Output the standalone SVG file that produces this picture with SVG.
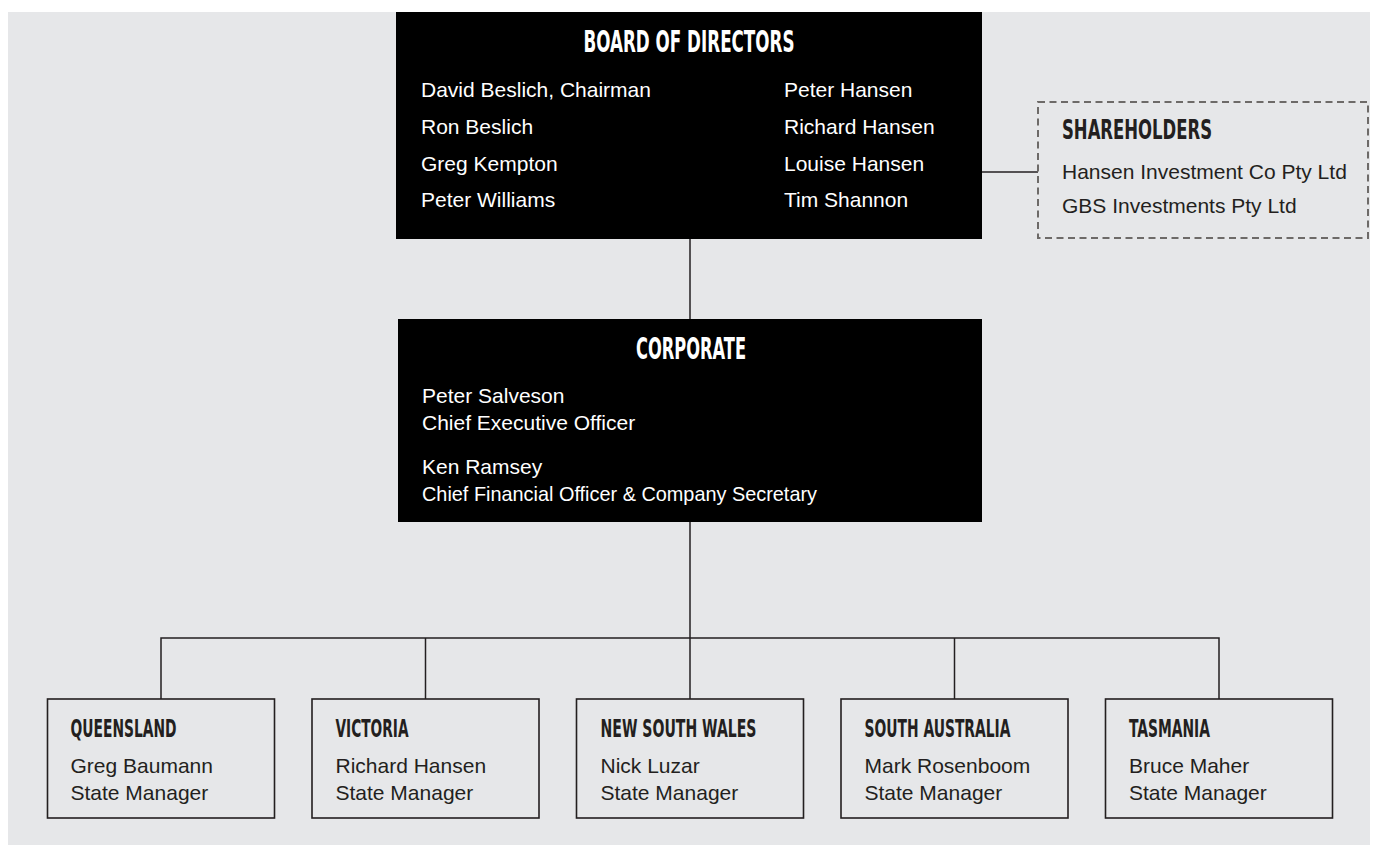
<svg xmlns="http://www.w3.org/2000/svg" width="1375" height="845" viewBox="0 0 1375 845">
<style>
.bg{fill:#e6e7e9}
.dark{fill:#000}
.box{fill:#e6e7e9;stroke:#231f20;stroke-width:1.6}
.dash{fill:#e6e7e9;stroke:#6d6a68;stroke-width:2;stroke-dasharray:7 4.5}
.line{stroke:#231f20;stroke-width:1.5;fill:none}
.h{font-family:"Liberation Sans Narrow","DejaVu Sans Condensed","Liberation Sans",sans-serif;font-weight:bold}
.t{font-family:"Liberation Sans",Arial,sans-serif;font-size:21px}
.w{fill:#fff}
.k{fill:#231f20}
</style>
<rect class="bg" x="8" y="12" width="1362" height="833"/>
<g id="connectors">
<line class="line" x1="690" y1="239" x2="690" y2="319"/>
<line class="line" x1="982" y1="172" x2="1038" y2="172"/>
<line class="line" x1="690" y1="522" x2="690" y2="638"/>
<polyline class="line" points="161,699 161,638 1219,638 1219,699"/>
<line class="line" x1="425.5" y1="638" x2="425.5" y2="699"/>
<line class="line" x1="690" y1="638" x2="690" y2="699"/>
<line class="line" x1="954.5" y1="638" x2="954.5" y2="699"/>
</g>
<g id="board">
<rect class="dark" x="396" y="12" width="586" height="227"/>
<text class="h w" x="689" y="52" font-size="30" text-anchor="middle" textLength="211" lengthAdjust="spacingAndGlyphs">BOARD OF DIRECTORS</text>
<text class="t w" x="421" y="97">David Beslich, Chairman</text>
<text class="t w" x="421" y="134">Ron Beslich</text>
<text class="t w" x="421" y="171">Greg Kempton</text>
<text class="t w" x="421" y="207">Peter Williams</text>
<text class="t w" x="784" y="97">Peter Hansen</text>
<text class="t w" x="784" y="134">Richard Hansen</text>
<text class="t w" x="784" y="171">Louise Hansen</text>
<text class="t w" x="784" y="207">Tim Shannon</text>
</g>
<g id="shareholders">
<rect class="dash" x="1038" y="102" width="330" height="136"/>
<text class="h k" x="1062" y="139" font-size="26" textLength="150" lengthAdjust="spacingAndGlyphs">SHAREHOLDERS</text>
<text class="t k" x="1062" y="179">Hansen Investment Co Pty Ltd</text>
<text class="t k" x="1062" y="213">GBS Investments Pty Ltd</text>
</g>
<g id="corporate">
<rect class="dark" x="398" y="319" width="584" height="203"/>
<text class="h w" x="691" y="359" font-size="30" text-anchor="middle" textLength="110" lengthAdjust="spacingAndGlyphs">CORPORATE</text>
<text class="t w" x="422" y="403">Peter Salveson</text>
<text class="t w" x="422" y="430">Chief Executive Officer</text>
<text class="t w" x="422" y="474">Ken Ramsey</text>
<text class="t w" x="422" y="501" textLength="395" lengthAdjust="spacingAndGlyphs">Chief Financial Officer &amp; Company Secretary</text>
</g>
<g id="queensland">
<rect class="box" x="47.5" y="699" width="227" height="119"/>
<text class="h k" x="70.5" y="737" font-size="24" textLength="106" lengthAdjust="spacingAndGlyphs">QUEENSLAND</text>
<text class="t k" x="70.5" y="773">Greg Baumann</text>
<text class="t k" x="70.5" y="800">State Manager</text>
</g>
<g id="victoria">
<rect class="box" x="312" y="699" width="227" height="119"/>
<text class="h k" x="335.5" y="737" font-size="24" textLength="73" lengthAdjust="spacingAndGlyphs">VICTORIA</text>
<text class="t k" x="335.5" y="773">Richard Hansen</text>
<text class="t k" x="335.5" y="800">State Manager</text>
</g>
<g id="nsw">
<rect class="box" x="576.5" y="699" width="227" height="119"/>
<text class="h k" x="600.5" y="737" font-size="24" textLength="156" lengthAdjust="spacingAndGlyphs">NEW SOUTH WALES</text>
<text class="t k" x="600.5" y="773">Nick Luzar</text>
<text class="t k" x="600.5" y="800">State Manager</text>
</g>
<g id="south-australia">
<rect class="box" x="841" y="699" width="227" height="119"/>
<text class="h k" x="864.5" y="737" font-size="24" textLength="146" lengthAdjust="spacingAndGlyphs">SOUTH AUSTRALIA</text>
<text class="t k" x="864.5" y="773">Mark Rosenboom</text>
<text class="t k" x="864.5" y="800">State Manager</text>
</g>
<g id="tasmania">
<rect class="box" x="1105.5" y="699" width="227" height="119"/>
<text class="h k" x="1129" y="737" font-size="24" textLength="81" lengthAdjust="spacingAndGlyphs">TASMANIA</text>
<text class="t k" x="1129" y="773">Bruce Maher</text>
<text class="t k" x="1129" y="800">State Manager</text>
</g>
</svg>
